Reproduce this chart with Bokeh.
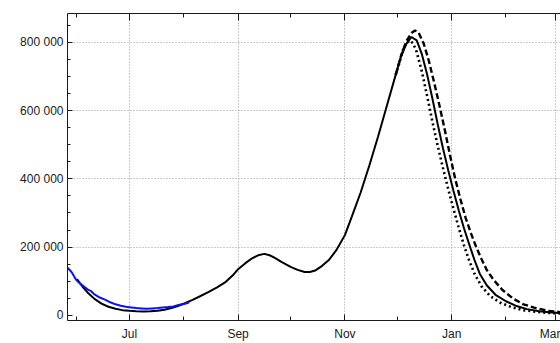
import pandas as pd
from bokeh.plotting import figure
from bokeh.models import (FixedTicker, DatetimeAxis, Range1d, DatetimeTickFormatter,
                          CustomLabelingPolicy)
from bokeh.embed import file_html
from bokeh.resources import INLINE

# ---- data ----
blue_dates = ["2020-05-26", "2020-05-27", "2020-05-28", "2020-05-29", "2020-05-30", "2020-05-31",
              "2020-06-01", "2020-06-03", "2020-06-05", "2020-06-07", "2020-06-09", "2020-06-11",
              "2020-06-14", "2020-06-17", "2020-06-20", "2020-06-23", "2020-06-26", "2020-06-29",
              "2020-07-02", "2020-07-05", "2020-07-08", "2020-07-11", "2020-07-14", "2020-07-17",
              "2020-07-20", "2020-07-23", "2020-07-26", "2020-07-29", "2020-08-01", "2020-08-04"]
blue_vals = [142000, 137000, 132000, 126000, 117000, 108000,
             101000, 92000, 84000, 76000, 71000, 61000,
             52000, 46000, 38000, 32000, 28000, 25000,
             23000, 21000, 20000, 19000, 20000, 21000,
             23000, 24000, 26000, 30000, 33000, 37000]

solid_dates = ["2020-06-01", "2020-06-04", "2020-06-07", "2020-06-11", "2020-06-15", "2020-06-19",
               "2020-06-23", "2020-06-27", "2020-07-01", "2020-07-05", "2020-07-09", "2020-07-13",
               "2020-07-17", "2020-07-21", "2020-07-25", "2020-07-29", "2020-08-02", "2020-08-06",
               "2020-08-10", "2020-08-15", "2020-08-20", "2020-08-25", "2020-08-29", "2020-09-01",
               "2020-09-05", "2020-09-09", "2020-09-13", "2020-09-16", "2020-09-19", "2020-09-22",
               "2020-09-26", "2020-10-01", "2020-10-05", "2020-10-09", "2020-10-12", "2020-10-15",
               "2020-10-19", "2020-10-23", "2020-10-27", "2020-11-01", "2020-11-05", "2020-11-10",
               "2020-11-15", "2020-11-20", "2020-11-25", "2020-11-30", "2020-12-03", "2020-12-06",
               "2020-12-09", "2020-12-12", "2020-12-15", "2020-12-18", "2020-12-21", "2020-12-24",
               "2020-12-27", "2020-12-30", "2021-01-02", "2021-01-05", "2021-01-08", "2021-01-11",
               "2021-01-14", "2021-01-17", "2021-01-21", "2021-01-26", "2021-02-01", "2021-02-07",
               "2021-02-13", "2021-02-20", "2021-02-27", "2021-03-06"]
solid_vals = [106000, 85000, 67000, 48000, 34000, 25000,
              19000, 15000, 13000, 11500, 11000, 11500,
              13000, 16000, 21000, 28000, 36000, 45000,
              55000, 68000, 82000, 98000, 117000, 135000,
              152000, 167000, 177000, 180000, 176000, 168000,
              156000, 142000, 133000, 127000, 127000, 131000,
              145000, 163000, 190000, 235000, 290000, 360000,
              440000, 525000, 615000, 705000, 758000, 795000,
              816000, 806000, 765000, 705000, 635000, 560000,
              490000, 425000, 365000, 308000, 255000, 208000,
              162000, 122000, 88000, 60000, 41000, 27000,
              18000, 12000, 8000, 6000]

dashed_dates = ["2020-11-30", "2020-12-03", "2020-12-06", "2020-12-09", "2020-12-11", "2020-12-13",
                "2020-12-16", "2020-12-19", "2020-12-22", "2020-12-25", "2020-12-28", "2020-12-31",
                "2021-01-03", "2021-01-06", "2021-01-09", "2021-01-12", "2021-01-15", "2021-01-18",
                "2021-01-21", "2021-01-25", "2021-01-30", "2021-02-05", "2021-02-11", "2021-02-18",
                "2021-02-25", "2021-03-06"]
dashed_vals = [705000, 760000, 803000, 828000, 835000, 830000,
               797000, 745000, 682000, 615000, 545000, 470000,
               400000, 340000, 285000, 240000, 200000, 165000,
               133000, 103000, 74000, 49000, 32000, 21000,
               13000, 8000]

dotted_dates = ["2020-11-30", "2020-12-02", "2020-12-04", "2020-12-06", "2020-12-08", "2020-12-10",
                "2020-12-12", "2020-12-15", "2020-12-18", "2020-12-21", "2020-12-24", "2020-12-27",
                "2020-12-30", "2021-01-02", "2021-01-05", "2021-01-08", "2021-01-11", "2021-01-14",
                "2021-01-18", "2021-01-23", "2021-01-29", "2021-02-04", "2021-02-11", "2021-02-18",
                "2021-02-25", "2021-03-06"]
dotted_vals = [705000, 738000, 776000, 798000, 806000, 797000,
               772000, 714000, 642000, 567000, 497000, 432000,
               370000, 312000, 257000, 205000, 160000, 122000,
               85000, 56000, 36000, 24000, 15000, 10000,
               7000, 5000]

x_major_dates = ["2020-07-01", "2020-09-01", "2020-11-01", "2021-01-01", "2021-03-01"]
x_major_labels = ["Jul", "Sep", "Nov", "Jan", "Mar"]
x_minor_dates = ["2020-06-01", "2020-08-01", "2020-10-01", "2020-12-01", "2021-02-01"]
y_major = [0, 200000, 400000, 600000, 800000]
y_major_labels = ["0", "200 000", "400 000", "600 000", "800 000"]
y_minor = [50000, 100000, 150000, 250000, 300000, 350000, 450000, 500000, 550000,
           650000, 700000, 750000, 850000]
y_grid = [200000, 400000, 600000, 800000]

# ---- build ----
def to_dt(lst):
    return pd.to_datetime(lst)

def to_ms(lst):
    return [float(pd.Timestamp(d).value // 10**6) for d in lst]

x_start = pd.Timestamp("2020-05-26 14:00")
x_end = pd.Timestamp("2021-03-04 03:00")

p = figure(width=560, height=343, x_axis_type="datetime",
           x_range=Range1d(start=x_start, end=x_end),
           y_range=Range1d(start=-15400, end=885000),
           output_backend="svg", toolbar_location=None,
           min_border_left=67, min_border_right=0, min_border_top=13, min_border_bottom=20)
p.outline_line_color = None
p.background_fill_color = "white"
p.border_fill_color = "white"

INK = "#1a1a1a"
major_ms = to_ms(x_major_dates)
minor_ms = to_ms(x_minor_dates)
x_ticker = FixedTicker(ticks=major_ms, minor_ticks=minor_ms)
y_ticker = FixedTicker(ticks=y_major, minor_ticks=y_minor)

xa = p.xaxis[0]
xa.ticker = x_ticker
xa.formatter = DatetimeTickFormatter(months="%b", days="%b", years="%b")
xa.major_label_overrides = {m: lab for m, lab in zip(major_ms, x_major_labels)}
xa.major_tick_in = 6
xa.major_tick_out = 0
xa.minor_tick_in = 4
xa.minor_tick_out = 0
xa.major_label_standoff = 6
xa.axis_line_color = INK
xa.major_tick_line_color = INK
xa.minor_tick_line_color = INK
xa.major_label_text_font = "Liberation Sans"
xa.major_label_text_font_size = "12px"
xa.major_label_text_color = INK

ya = p.yaxis[0]
ya.ticker = y_ticker
ya.major_label_overrides = {v: lab for v, lab in zip(y_major, y_major_labels)}
ya.major_tick_in = 5
ya.major_tick_out = 0
ya.minor_tick_in = 3
ya.minor_tick_out = 0
ya.major_label_standoff = 4
ya.axis_line_color = INK
ya.major_tick_line_color = INK
ya.minor_tick_line_color = INK
ya.major_label_text_font = "Liberation Sans"
ya.major_label_text_font_size = "12px"
ya.major_label_text_color = INK

top = DatetimeAxis(ticker=FixedTicker(ticks=major_ms, minor_ticks=minor_ms))
top.major_tick_in = 7
top.major_tick_out = 0
top.minor_tick_in = 4
top.minor_tick_out = 0
top.major_label_text_font_size = "2px"
top.major_label_standoff = 0
top.major_label_policy = CustomLabelingPolicy(
    code="for (const i of indices) indices.unset(i)\nreturn indices")
top.axis_line_color = INK
top.major_tick_line_color = INK
top.minor_tick_line_color = INK
p.add_layout(top, "above")

p.xgrid.ticker = FixedTicker(ticks=major_ms)
p.ygrid.ticker = FixedTicker(ticks=y_grid)
for g in (p.xgrid[0], p.ygrid[0]):
    g.grid_line_color = "#999999"
    g.grid_line_dash = "1 2"
    g.grid_line_width = 1

p.line(to_dt(solid_dates), solid_vals, line_color="black", line_width=2)
p.line(to_dt(dashed_dates), dashed_vals, line_color="black", line_width=2.4, line_dash="6 3")
p.line(to_dt(dotted_dates), dotted_vals, line_color="black", line_width=2.6, line_dash="2 3")
p.line(to_dt(blue_dates), blue_vals, line_color="#0a14f0", line_width=2)

open("out.html", "w").write(file_html(p, INLINE))
